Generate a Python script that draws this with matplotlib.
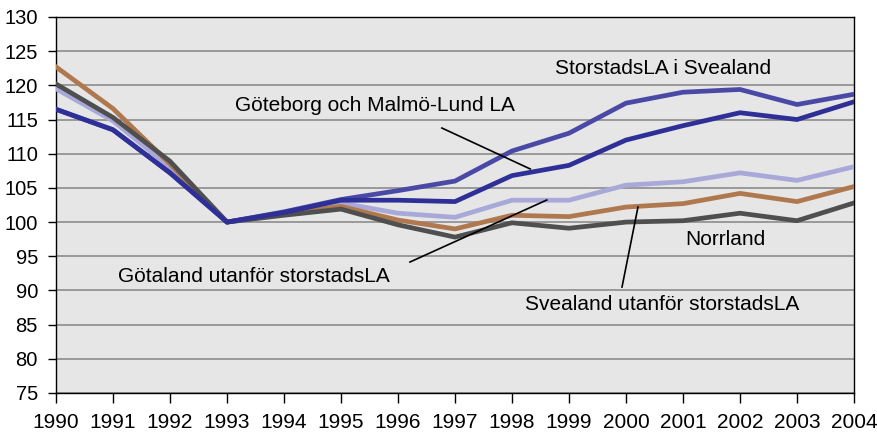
import matplotlib
matplotlib.use("Agg")
import matplotlib.pyplot as plt

plt.rcParams['font.family'] = ['Liberation Sans', 'DejaVu Sans']

years = list(range(1990, 2005))
storstad_svealand = [116.5, 113.5, 107.2, 100.0, 101.5, 103.3, 104.6, 106.0, 110.4, 113.0, 117.4, 119.0, 119.4, 117.2, 118.7]
goteborg_malmo = [116.5, 113.5, 107.2, 100.0, 101.4, 103.2, 103.2, 103.0, 106.8, 108.3, 112.0, 114.1, 116.0, 115.0, 117.6]
gotaland_utanfor = [119.5, 114.8, 108.0, 100.0, 101.3, 102.8, 101.3, 100.7, 103.2, 103.2, 105.4, 105.9, 107.2, 106.1, 108.1]
svealand_utanfor = [122.7, 116.6, 108.5, 100.0, 101.2, 102.3, 100.3, 99.0, 101.0, 100.8, 102.2, 102.7, 104.2, 103.0, 105.2]
norrland = [120.2, 115.3, 108.9, 100.0, 101.0, 101.9, 99.6, 97.8, 99.9, 99.1, 100.0, 100.2, 101.3, 100.2, 102.8]

yticks = list(range(75, 131, 5))

fig = plt.figure(figsize=(8.78, 4.34), dpi=100)
ax = fig.add_axes([56/878, 1-393/434, (854-56)/878, (393-17)/434])
ax.set_facecolor('#e6e6e6')

lw = 3.4
ax.plot(years, gotaland_utanfor, color='#a9a9d9', lw=lw, zorder=3)
ax.plot(years, svealand_utanfor, color='#b0784e', lw=lw, zorder=3)
ax.plot(years, norrland, color='#4f4f4f', lw=lw, zorder=3)
ax.plot(years, storstad_svealand, color='#4a4aa6', lw=lw, zorder=4)
ax.plot(years, goteborg_malmo, color='#2f2f98', lw=lw, zorder=4)

ax.set_xlim(1990, 2004)
ax.set_ylim(75, 130)
ax.set_yticks(yticks)
ax.set_xticks(years)
ax.set_xticklabels([str(y) for y in years])
ax.grid(axis='y', color='#8c8c8c', lw=1.2, zorder=1)
ax.set_axisbelow(True)
for s in ax.spines.values():
    s.set_color('black')
    s.set_linewidth(1.0)
ax.tick_params(axis='y', direction='out', length=6, width=1, labelsize=14.5, pad=7)
ax.tick_params(axis='x', direction='out', length=7, width=1, labelsize=15, pad=7.5)

fs = 15
ax.text(2000.65, 122.5, 'StorstadsLA i Svealand', fontsize=fs, ha='center', va='center', zorder=5)
ax.text(1995.6, 117.0, 'Göteborg och Malmö-Lund LA', fontsize=fs, ha='center', va='center', zorder=5)
ax.text(1993.47, 92.1, 'Götaland utanför storstadsLA', fontsize=fs, ha='center', va='center', zorder=5)
ax.text(2000.63, 88.0, 'Svealand utanför storstadsLA', fontsize=fs, ha='center', va='center', zorder=5)
ax.text(2001.74, 97.4, 'Norrland', fontsize=fs, ha='center', va='center', zorder=5)

ax.plot([1996.77, 1998.32], [113.76, 107.77], color='black', lw=1.2, zorder=6)
ax.plot([1996.21, 1998.61], [94.16, 103.23], color='black', lw=1.2, zorder=6)
ax.plot([1999.93, 2000.21], [90.5, 102.2], color='black', lw=1.2, zorder=6)

fig.savefig('out.png', dpi=100)
